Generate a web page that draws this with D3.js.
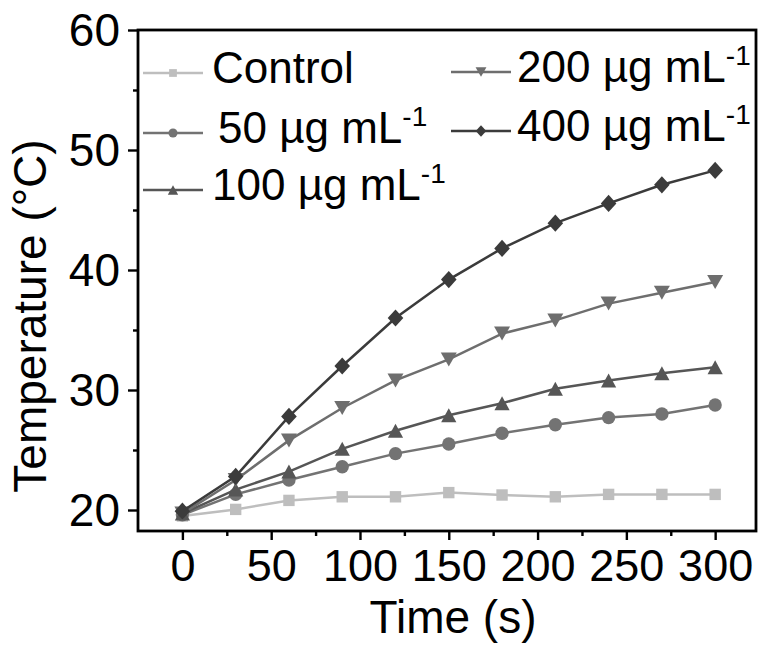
<!DOCTYPE html>
<html>
<head>
<meta charset="utf-8">
<script src="https://cdn.jsdelivr.net/npm/d3@7/dist/d3.min.js"></script>
<style>
  html, body { margin: 0; padding: 0; background: #ffffff; }
  svg { display: block; }
  text { font-family: "Liberation Sans", Arial, sans-serif; fill: #000; }
</style>
</head>
<body>
<svg id="chart" width="760" height="650"></svg>
<script>
// Irradiation time (s)
const time = [0, 30, 60, 90, 120, 150, 180, 210, 240, 270, 300];

// Temperature (°C) for each concentration
const control = [19.5, 20.05, 20.8, 21.1, 21.1, 21.45, 21.25, 21.1, 21.3, 21.3, 21.3];
const conc50  = [19.6, 21.3, 22.5, 23.6, 24.7, 25.5, 26.4, 27.1, 27.7, 28.0, 28.75];
const conc100 = [19.7, 21.7, 23.2, 25.1, 26.6, 27.9, 28.9, 30.1, 30.8, 31.4, 31.9];
const conc200 = [19.7, 22.5, 25.8, 28.5, 30.8, 32.55, 34.7, 35.8, 37.2, 38.1, 39.0];
const conc400 = [19.9, 22.8, 27.8, 32.0, 36.0, 39.2, 41.8, 43.9, 45.55, 47.1, 48.3];

// Axis ticks
const xTicks = [0, 50, 100, 150, 200, 250, 300];
const xMinorTicks = [25, 75, 125, 175, 225, 275];
const yTicks = [20, 30, 40, 50, 60];
const yMinorTicks = [25, 35, 45, 55];

// Series descriptions: label parts, colour
const seriesNames = ["Control", "50 µg mL", "100 µg mL", "200 µg mL", "400 µg mL"];
const seriesSup   = ["", "-1", "-1", "-1", "-1"];
const seriesData  = [control, conc50, conc100, conc200, conc400];
const seriesColors = ["#bebebe", "#737373", "#565656", "#6e6e6e", "#3b3b3b"];

const svg = d3.select("#chart");

const x = d3.scaleLinear().domain([-25, 323]).range([138, 756]);
const y = d3.scaleLinear().domain([18.25, 60]).range([531, 30]);

// Marker shapes: square, circle, up triangle, down triangle, diamond
function markerPath(i, big) {
  const s = big ? 1 : 0.68;
  switch (i) {
    case 0: return d3.symbol().type(d3.symbolSquare).size(130 * s * s)();
    case 1: return d3.symbol().type(d3.symbolCircle).size(140 * s * s)();
    case 2: {
      const w = 7.6 * s, h = 7 * s;
      return `M0,${-h}L${w},${h}L${-w},${h}Z`;
    }
    case 3: {
      const w = 8 * s, h = 7 * s;
      return `M0,${h}L${w},${-h}L${-w},${-h}Z`;
    }
    case 4: {
      const w = 7.8 * s, h = 8.6 * s;
      return `M0,${-h}L${w},0L0,${h}L${-w},0Z`;
    }
  }
}

const plot = svg.append("g");
const line = d3.line().x((d, j) => x(time[j])).y(d => y(d));

seriesData.forEach((vals, i) => {
  const g = plot.append("g");
  g.append("path")
    .attr("d", line(vals))
    .attr("fill", "none")
    .attr("stroke", seriesColors[i])
    .attr("stroke-width", 2.5);
  g.selectAll("path.m")
    .data(vals)
    .enter().append("path")
    .attr("class", "m")
    .attr("d", markerPath(i, true))
    .attr("transform", (d, j) => `translate(${x(time[j])},${y(d)})`)
    .attr("fill", seriesColors[i]);
});

// Axes
const xAxis = svg.append("g").attr("transform", `translate(0,${y.range()[0]})`)
  .call(d3.axisBottom(x).tickValues(xTicks).tickSize(9).tickPadding(9).tickFormat(d3.format("d")));
const xMinor = svg.append("g").attr("transform", `translate(0,${y.range()[0]})`)
  .call(d3.axisBottom(x).tickValues(xMinorTicks).tickSize(5).tickFormat(""));
const yAxis = svg.append("g").attr("transform", `translate(${x.range()[0]},0)`)
  .call(d3.axisLeft(y).tickValues(yTicks).tickSize(10).tickPadding(8).tickFormat(d3.format("d")));
const yMinor = svg.append("g").attr("transform", `translate(${x.range()[0]},0)`)
  .call(d3.axisLeft(y).tickValues(yMinorTicks).tickSize(5).tickFormat(""));

[xAxis, xMinor, yAxis, yMinor].forEach(a => {
  a.select(".domain").remove();
  a.selectAll(".tick line").attr("stroke", "#000").attr("stroke-width", 2.4);
  a.selectAll(".tick text")
    .style("font-family", "'Liberation Sans', Arial, sans-serif")
    .attr("fill", "#000");
});
xAxis.selectAll(".tick text").attr("font-size", 45);
yAxis.selectAll(".tick text").attr("font-size", 46).attr("dy", "0.34em");

// Frame
svg.append("rect")
  .attr("x", x.range()[0]).attr("y", y.range()[1])
  .attr("width", x.range()[1] - x.range()[0])
  .attr("height", y.range()[0] - y.range()[1])
  .attr("fill", "none").attr("stroke", "#000").attr("stroke-width", 2.8);

// Axis titles
svg.append("text")
  .attr("x", 453).attr("y", 633)
  .attr("text-anchor", "middle")
  .attr("font-size", 46)
  .text("Time (s)");

svg.append("text")
  .attr("transform", "translate(46,316) rotate(-90)")
  .attr("text-anchor", "middle")
  .attr("font-size", 46)
  .text("Temperature (°C)");

// Legend
const legendPos = [
  { lx: 143, ly: 73,  tx: 212 },
  { lx: 143, ly: 133, tx: 218 },
  { lx: 143, ly: 190, tx: 212 },
  { lx: 451, ly: 72,  tx: 517 },
  { lx: 451, ly: 131, tx: 517 }
];
const legendFont = 44;
seriesNames.forEach((name, i) => {
  const p = legendPos[i];
  const g = svg.append("g");
  g.append("line")
    .attr("x1", p.lx).attr("x2", p.lx + 60)
    .attr("y1", p.ly).attr("y2", p.ly)
    .attr("stroke", seriesColors[i]).attr("stroke-width", 2.4);
  g.append("path")
    .attr("d", markerPath(i, false))
    .attr("transform", `translate(${p.lx + 30},${p.ly})`)
    .attr("fill", seriesColors[i]);
  const t = g.append("text")
    .attr("x", p.tx).attr("y", p.ly + 10)
    .attr("font-size", legendFont);
  t.append("tspan").text(name);
  if (seriesSup[i]) {
    t.append("tspan").attr("dy", -17).attr("font-size", 28).text(seriesSup[i]);
  }
});
</script>
</body>
</html>
